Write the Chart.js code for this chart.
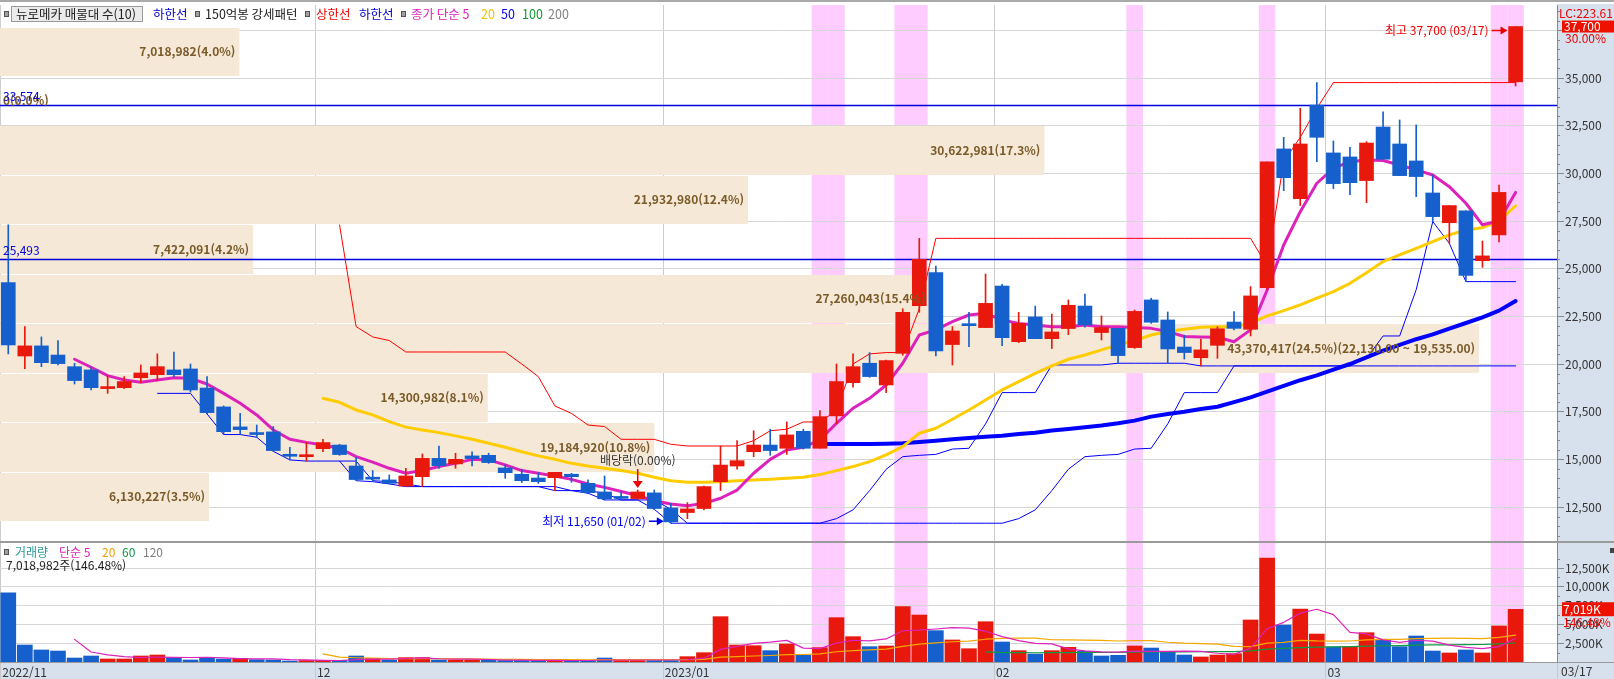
<!DOCTYPE html>
<html lang="ko">
<head>
<meta charset="utf-8">
<title>뉴로메카 일봉</title>
<script src="https://cdn.jsdelivr.net/npm/chart.js@4.4.1/dist/chart.umd.min.js"></script>
<style>
html,body{margin:0;padding:0;width:1614px;height:679px;overflow:hidden;background:#fff;}
.panel{position:absolute;background:#d7e1ee;}
#rp{left:1557px;top:4px;width:57px;height:675px;}
#bs{left:0;top:662px;width:1614px;height:17px;}
.cw{position:absolute;left:0;width:1614px;}
#c1w{top:0;height:543px;}
#c2w{top:543px;height:136px;}
</style>
</head>
<body>
<div id="rp" class="panel"></div>
<div id="bs" class="panel"></div>
<div id="c1w" class="cw"><canvas id="c1"></canvas></div>
<div id="c2w" class="cw"><canvas id="c2"></canvas></div>
<script>
// ---------------- DATA ----------------
const dates = [
'2022/11/04','2022/11/07','2022/11/08','2022/11/09','2022/11/10','2022/11/11','2022/11/14','2022/11/15','2022/11/16','2022/11/17','2022/11/18','2022/11/21','2022/11/22','2022/11/23','2022/11/24','2022/11/25','2022/11/28','2022/11/29','2022/11/30',
'2022/12/01','2022/12/02','2022/12/05','2022/12/06','2022/12/07','2022/12/08','2022/12/09','2022/12/12','2022/12/13','2022/12/14','2022/12/15','2022/12/16','2022/12/19','2022/12/20','2022/12/21','2022/12/22','2022/12/23','2022/12/26','2022/12/27','2022/12/28','2022/12/29',
'2023/01/02','2023/01/03','2023/01/04','2023/01/05','2023/01/06','2023/01/09','2023/01/10','2023/01/11','2023/01/12','2023/01/13','2023/01/16','2023/01/17','2023/01/18','2023/01/19','2023/01/20','2023/01/25','2023/01/26','2023/01/27','2023/01/30','2023/01/31',
'2023/02/01','2023/02/02','2023/02/03','2023/02/06','2023/02/07','2023/02/08','2023/02/09','2023/02/10','2023/02/13','2023/02/14','2023/02/15','2023/02/16','2023/02/17','2023/02/20','2023/02/21','2023/02/22','2023/02/23','2023/02/24','2023/02/27','2023/02/28',
'2023/03/02','2023/03/03','2023/03/06','2023/03/07','2023/03/08','2023/03/09','2023/03/10','2023/03/13','2023/03/14','2023/03/15','2023/03/16','2023/03/17'];

const openP = [24270,20420,20950,20470,19860,19690,18710,18760,19280,19440,19690,19740,18740,17750,16700,16400,16440,15260,15140,15560,
15750,14650,14040,13920,13600,14090,15050,14760,15180,15210,14550,14220,14020,14040,14220,13740,13290,13000,12940,13240,
12450,12210,12420,13830,14650,15400,15750,15580,16470,15580,17280,19020,20040,18900,20560,23060,24790,21020,22100,21910,
24090,21170,22470,21330,21860,23040,21650,21870,20860,23360,22310,20890,20330,20980,22200,21820,24000,31280,28670,33580,
31070,30860,29620,32430,31540,30650,28970,27410,28030,25420,26770,34800];
const highP = [27300,21960,21420,21230,20040,19830,19390,19340,19950,20530,20630,20000,19340,17800,17410,16800,16720,15630,15890,16050,
15790,15110,14410,14180,14530,15280,15700,15320,15390,15320,14710,14480,14300,14320,14270,13920,14130,13290,13390,13390,
12690,12730,13600,15700,15980,16500,16580,16960,16580,17560,20000,20530,20600,20210,22900,26590,25140,21960,22710,24720,
24180,22710,23040,22620,23360,23670,22520,21870,22830,23450,22730,21510,21310,21960,22750,24060,30610,31890,33410,34760,
31700,31360,31660,33230,32800,32540,29910,28310,28030,26450,29390,37700];
const lowP = [20530,19760,19860,19950,18950,18640,18460,18710,19020,19130,19340,18530,17380,16300,16330,16160,15420,14970,14910,15400,
15210,13880,13830,13710,13570,13570,14530,14530,14650,14790,14010,13780,13740,13360,13800,13220,12870,12870,12870,12380,
11650,11890,12350,13360,14480,15140,15210,15260,15540,15580,16860,18780,19300,18500,20460,22710,20420,19950,20910,21910,
20960,21120,21330,20810,21540,21930,21260,20040,20820,22130,20040,20260,19900,20300,21790,21470,23900,29090,28310,30610,
29200,28880,28460,30740,29880,28780,27470,26330,24320,25070,26400,34580];
const closeP = [21000,20950,20070,20020,19130,18760,18810,19080,19530,19860,19440,18640,17450,16450,16560,16300,15460,15160,15230,15880,
15250,13940,13960,13740,14130,15050,14670,15000,15040,14830,14300,13880,13830,14320,14090,13250,12930,12950,13290,12420,
11720,12400,13570,14700,14930,15750,15460,16280,15580,17240,19080,19860,19340,20180,22710,25490,20680,21730,22010,23180,
21380,22130,21330,21680,23080,22050,21910,20440,22760,22190,20790,20600,20740,21850,21870,23570,30610,29770,31540,31890,
29460,29510,31590,30740,29880,29830,27730,28310,24640,25670,29000,37700];

// volume, thousands of shares
const volumeK = [9200,2260,1600,1460,530,800,400,400,800,930,580,270,580,400,470,310,270,130,200,200,
200,800,470,270,580,580,270,270,270,270,200,200,200,200,200,200,530,200,200,200,
200,710,1240,6030,2260,2170,1510,2390,890,1910,5900,3370,2040,2130,7360,6250,4170,2930,1770,5360,
2660,1510,1060,1510,1950,1420,800,890,2130,1860,1420,930,670,930,1110,5590,13830,4920,7050,3720,
2000,2040,3900,3020,2040,3460,1460,1200,1600,1200,4791.767,7018.982];

const lead = n => Array(n).fill(null);
const ma5 = [...lead(4),
20250,19830,19390,19160,19040,19160,19280,19250,18950,18460,
17940,17330,16540,16050,15890,15750,15580,15140,14850,14530,
14270,14410,14620,14790,15000,14970,14710,14410,14270,14130,
13950,13710,13530,13310,13100,12830,12660,12570,12690,12960,
13390,14270,15000,15490,15630,16020,16890,17680,18200,18900,
20040,21520,21790,22220,22570,22660,22310,22130,22050,21960,
21960,22050,21960,21960,21920,21870,21700,21440,21420,21400,
21170,21790,23880,26240,27990,29480,30260,30610,30700,30670,
30440,30180,29910,29300,28430,27300,27500,29000];
const ma20 = [...lead(19),
18200,17990,17590,17330,16980,16690,16540,16400,16230,16050,
15840,15630,15400,15180,15000,14790,14650,14530,14410,14270,
14060,13880,13800,13800,13830,13880,13920,13950,14010,14060,
14200,14410,14620,14880,15230,15670,16370,16630,17100,17590,
18110,18640,19080,19510,19900,20250,20470,20740,21000,21230,
21520,21700,21820,21930,21960,21960,22140,22520,22800,23100,
23450,23800,24230,24790,25370,25720,26070,26420,26770,27030,
27150,27500,28300];
const ma50 = [...lead(49),
15810,15810,15810,15810,15820,15840,15910,15980,16050,16120,
16190,16240,16330,16400,16510,16590,16680,16770,16890,17030,
17240,17380,17500,17640,17760,18000,18250,18550,18850,19150,
19400,19700,20000,20350,20700,21000,21300,21550,21850,22150,
22450,22800,23300];
const upperLine = [...lead(20),
27300,21960,21420,21230,20630,20630,20630,20630,20630,20630,
20630,20000,19340,17800,17410,16800,16720,16050,16050,16050,
15790,15700,15700,15700,15700,15980,16500,16580,16960,16960,
17560,20000,20530,20600,20600,22900,26590,26590,26590,26590,
26590,26590,26590,26590,26590,26590,26590,26590,26590,26590,
26590,26590,26590,26590,26590,26590,25140,30610,31890,33410,
34760,34760,34760,34760,34760,34760,34760,34760,34760,34760,
34760,34760];
const lowerLine10 = [...lead(9),
18460,18460,18460,17380,16300,16300,16160,15420,14970,14910,
14910,14910,13880,13830,13710,13570,13570,13570,13570,13570,
13570,13570,13570,13570,13360,13360,13220,12870,12870,12870,
12380,11650,11650,11650,11650,11650,11650,11650,11650,11650,
11650,11890,12350,13360,14480,15140,15210,15260,15540,15580,
16860,18500,18500,18500,19950,19950,19950,19950,20040,20040,
20040,20040,20040,19900,19900,19900,19900,19900,19900,19900,
19900,19900,19900,20300,21470,21470,23900,27470,26330,24320,
24320,24320,24320];
const lowerLine20 = [...lead(20),
14910,14910,13880,13830,13710,13570,13570,13570,13570,13570,
13570,13570,13570,13570,13360,13360,13220,12870,12870,12870,
12380,11650,11650,11650,11650,11650,11650,11650,11650,11650,
11650,11650,11650,11650,11650,11650,11650,11650,11650,11650,
11650,11890,12350,13360,14480,15140,15210,15260,15540,15580,
16860,18500,18500,18500,19900,19900,19900,19900,19900,19900,
19900,19900,19900,19900,19900,19900,19900,19900,19900,19900,
19900,19900];
const volMa5 = [...lead(4),
3010,1330,958,718,586,666,622,596,632,552,
460,406,406,316,276,222,200,306,374,388,
464,540,434,394,394,332,256,242,228,214,
200,200,266,266,266,266,266,302,510,1676,
2088,2482,2642,2872,1844,1774,2520,2892,2822,3070,
4160,4230,4390,4568,4496,4096,3378,2846,2472,2420,
1738,1490,1348,1314,1438,1420,1420,1446,1402,1162,
1012,1846,4426,5276,6500,7022,6304,3946,3742,2936,
2600,2892,2776,2236,1952,1784,2050,3162];
const volMa20 = [...lead(19),
1090,640,567,510,451,453,442,436,429,403,
370,351,347,328,318,305,299,312,316,316,
316,316,311,350,638,722,801,863,969,1000,
1082,1367,1526,1618,1714,2072,2375,2557,2693,2772,
3030,3153,3193,3184,2958,2942,2905,2869,2794,2856,
2854,2630,2508,2439,2379,2067,2034,2517,2616,2880,
2798,2765,2792,2934,3009,3014,3116,3149,3164,3138,
3105,3273,3577];
const volMa60 = [...lead(59),
1360,1250,1240,1230,1235,1260,1270,1280,1290,1310,
1330,1345,1360,1365,1375,1390,1480,1710,1800,1920,
1985,2020,2045,2110,2160,2190,2240,2265,2285,2310,
2330,2410,2530];

// 매물대 (volume profile), top band first
const profileBounds = [37700,35105,32510,29915,27320,24725,22130,19535,16940,14345,11750];
const profileVolumes = [7018982,0,30622981,21932980,7422091,27260043,43370417,14300982,19184920,6130227];
const refLines = [33574,25493];
const pinkIdx = [49,50,54,55,68,76,90,91];
const monthLabels = {0:'2022/11',19:'12',40:'2023/01',60:'02',80:'03'};
const priceTicks = [12500,15000,17500,20000,22500,25000,27500,30000,32500,35000,37500];
const volumeTicksK = [2500,5000,7500,10000,12500];
const exDividendIdx = 38;
const exDividendRate = 0.00;
const lcValue = 223.61;

// ---------------- STYLE ----------------
const FONT = "'Noto Sans CJK KR','Noto Sans',sans-serif";
const RED = '#e8190c', BLUE = '#1560cc', PINK = '#ffccff', BEIGE = '#f5e8d6';
Chart.defaults.font.family = FONT;
Chart.defaults.font.size = 12;
Chart.defaults.color = '#333';
const labels = [...dates, '', ''];
const fmt = v => v.toLocaleString('en-US');
const fmt2 = v => v.toLocaleString('en-US',{minimumFractionDigits:2,maximumFractionDigits:2});
const maxProfile = Math.max(...profileVolumes);

function arrowRight(ctx,x1,x2,y,color){
  ctx.strokeStyle=color;ctx.fillStyle=color;ctx.lineWidth=1.5;
  ctx.beginPath();ctx.moveTo(x1,y);ctx.lineTo(x2-5,y);ctx.stroke();
  ctx.beginPath();ctx.moveTo(x2,y);ctx.lineTo(x2-7,y-4);ctx.lineTo(x2-7,y+4);ctx.closePath();ctx.fill();
}
function arrowDown(ctx,x,y1,y2,color){
  ctx.strokeStyle=color;ctx.fillStyle=color;ctx.lineWidth=1.5;
  ctx.beginPath();ctx.moveTo(x,y1);ctx.lineTo(x,y2-5);ctx.stroke();
  ctx.beginPath();ctx.moveTo(x,y2);ctx.lineTo(x-5,y2-7);ctx.lineTo(x+5,y2-7);ctx.closePath();ctx.fill();
}
function square(ctx,x,y){
  ctx.fillStyle='#a0a0a0';ctx.fillRect(x,y-3,5,6);
  ctx.strokeStyle='#555';ctx.lineWidth=1;ctx.strokeRect(x+0.5,y-2.5,4,5);
}
// items: {x, t, c} text at fixed x; {x, sq:1} square
function legendRow(ctx,y,items,size){
  ctx.textBaseline='middle';ctx.textAlign='left';ctx.font=size+'px '+FONT;
  for(const it of items){
    if(it.sq){square(ctx,it.x,y);continue;}
    if(it.box){
      ctx.fillStyle='#ebebeb';ctx.fillRect(it.box[0],y-8,it.box[1]-it.box[0],16);
      ctx.strokeStyle='#9a9a9a';ctx.lineWidth=1;ctx.strokeRect(it.box[0]+0.5,y-7.5,it.box[1]-it.box[0]-1,15);
    }
    ctx.fillStyle=it.c;ctx.fillText(it.t,it.x,y);
  }
}
function catWidth(x){return x.getPixelForValue(1)-x.getPixelForValue(0);}

const mainPlugin = {
  id:'mainDeco',
  beforeDraw(chart){
    const {ctx,chartArea:a,scales:{x}}=chart;const w=catWidth(x);
    ctx.save();
    ctx.fillStyle=PINK;
    for(const i of pinkIdx){ctx.fillRect(x.getPixelForValue(i)-w/2,a.top,w,a.bottom-a.top);}
    ctx.strokeStyle='#cdcdcd';ctx.lineWidth=1;
    for(const k of Object.keys(monthLabels)){
      const bx=Math.round(x.getPixelForValue(+k)-w/2)+0.5;
      ctx.beginPath();ctx.moveTo(bx,a.top);ctx.lineTo(bx,a.bottom);ctx.stroke();
    }
    ctx.restore();
  },
  beforeDatasetsDraw(chart){
    const {ctx,chartArea:a,scales:{y,xv}}=chart;
    ctx.save();
    ctx.fillStyle=BEIGE;
    profileVolumes.forEach((v,k)=>{
      const yt=Math.round(y.getPixelForValue(profileBounds[k]))+1;
      const yb=Math.round(y.getPixelForValue(profileBounds[k+1]));
      const xr=xv.getPixelForValue(v);
      if(v>0) ctx.fillRect(a.left,yt,xr-a.left,yb-yt);
    });
    ctx.strokeStyle='#0000dd';ctx.lineWidth=1.3;
    for(const v of refLines){
      const yy=Math.round(y.getPixelForValue(v))+0.5;
      ctx.beginPath();ctx.moveTo(a.left,yy);ctx.lineTo(a.right,yy);ctx.stroke();
    }
    ctx.restore();
  },
  afterDatasetsDraw(chart){
    const {ctx,chartArea:a,scales:{x,y,xv}}=chart;
    ctx.save();
    const total=profileVolumes.reduce((s,v)=>s+v,0);
    ctx.font='bold 12px '+FONT;ctx.fillStyle='#7a5a28';ctx.textBaseline='middle';
    profileVolumes.forEach((v,k)=>{
      const ym=(y.getPixelForValue(profileBounds[k])+y.getPixelForValue(profileBounds[k+1]))/2;
      let t=fmt(v)+'('+(v/total*100).toFixed(1)+'%)';
      if(v===maxProfile) t+='('+fmt2(profileBounds[k])+' ~ '+fmt2(profileBounds[k+1])+')';
      if(v>0){ctx.textAlign='right';ctx.fillText(t,xv.getPixelForValue(v)-4,ym);}
      else{ctx.textAlign='left';ctx.fillText(t,a.left+3,ym);}
    });
    ctx.font='12px '+FONT;ctx.fillStyle='#0000dd';ctx.textAlign='left';
    for(const v of refLines){ctx.fillText(fmt(v),a.left+3,y.getPixelForValue(v)-9);}
    // high
    const hi=highP.indexOf(Math.max(...highP));
    const hx=x.getPixelForValue(hi),hy=y.getPixelForValue(highP[hi])+4;
    arrowRight(ctx,hx-24,hx-8,hy,'#ee0000');
    ctx.font='12px '+FONT;ctx.fillStyle='#ee0000';ctx.textAlign='right';
    ctx.fillText('최고 '+fmt(highP[hi])+' ('+dates[hi].slice(5)+')',hx-27,hy);
    // low
    const lo=lowP.indexOf(Math.min(...lowP));
    const lx=x.getPixelForValue(lo),ly=y.getPixelForValue(lowP[lo])-2;
    arrowRight(ctx,lx-22,lx-7,ly,'#0000ee');
    ctx.fillStyle='#0000ee';ctx.textAlign='right';
    ctx.fillText('최저 '+fmt(lowP[lo])+' ('+dates[lo].slice(5)+')',lx-25,ly);
    // ex-dividend
    const dx=x.getPixelForValue(exDividendIdx),tip=y.getPixelForValue(highP[exDividendIdx])-2;
    arrowDown(ctx,dx,tip-19,tip,'#ee0000');
    ctx.fillStyle='#333';ctx.textAlign='center';
    ctx.fillText('배당락('+exDividendRate.toFixed(2)+'%)',dx,tip-28);
    ctx.restore();
  },
  afterDraw(chart){
    const {ctx,chartArea:a,scales:{y}}=chart;
    ctx.save();
    ctx.fillStyle='#a9a9a9';ctx.fillRect(0,0,chart.width,2);
    ctx.fillStyle='#9a9a9a';ctx.fillRect(0,a.bottom-2,chart.width,2);
    ctx.strokeStyle='#888';ctx.lineWidth=1;
    for(let v=11000;v<=38500;v+=500){
      if(v%2500===0)continue;
      const yy=Math.round(y.getPixelForValue(v))+0.5;
      ctx.beginPath();ctx.moveTo(a.right,yy);ctx.lineTo(a.right+3,yy);ctx.stroke();
    }
    ctx.font='12px '+FONT;ctx.textBaseline='middle';ctx.textAlign='left';
    ctx.fillStyle='#ee0000';ctx.fillText('LC:'+lcValue.toFixed(2),a.right+2,13);
    const n=closeP.length,last=closeP[n-1],prev=closeP[n-2];
    const by=y.getPixelForValue(last);
    ctx.fillStyle='#ee1100';ctx.fillRect(a.right+5,by-6,chart.width-a.right-5,12);
    ctx.fillStyle='#fff';ctx.fillText(fmt(last),a.right+7,by);
    ctx.fillStyle='#ee0000';ctx.fillText(((last/prev-1)*100).toFixed(2)+'%',a.right+8,by+12);
    legendRow(ctx,14,[
      {x:4,sq:1},{x:16,t:'뉴로메카 매물대 수(10)',c:'#222',box:[11,143]},{x:153,t:'하한선',c:'#0000cc'},
      {x:195,sq:1},{x:205,t:'150억봉 강세패턴',c:'#222'},
      {x:305,sq:1},{x:316,t:'상한선',c:'#ee0000'},{x:359,t:'하한선',c:'#0000cc'},
      {x:401,sq:1},{x:411,t:'종가 단순 5',c:'#dd22bb'},{x:481,t:'20',c:'#f5c400'},
      {x:501,t:'50',c:'#0000ee'},{x:522,t:'100',c:'#119933'},{x:548,t:'200',c:'#808080'}
    ],12.5);
    ctx.restore();
  }
};

const volPlugin = {
  id:'volDeco',
  beforeDraw(chart){
    const {ctx,chartArea:a,scales:{x}}=chart;const w=catWidth(x);
    ctx.save();
    ctx.fillStyle=PINK;
    for(const i of pinkIdx){ctx.fillRect(x.getPixelForValue(i)-w/2,a.top,w,a.bottom-a.top);}
    ctx.strokeStyle='#c8c8c8';ctx.lineWidth=1;
    for(const k of Object.keys(monthLabels)){
      const bx=Math.round(x.getPixelForValue(+k)-w/2)+0.5;
      ctx.beginPath();ctx.moveTo(bx,a.top);ctx.lineTo(bx,chart.height);ctx.stroke();
    }
    ctx.beginPath();ctx.moveTo(a.right+0.5,a.bottom);ctx.lineTo(a.right+0.5,chart.height);ctx.stroke();
    ctx.restore();
  },
  afterDraw(chart){
    const {ctx,chartArea:a,scales:{y}}=chart;
    ctx.save();
    ctx.fillStyle='#9a9a9a';ctx.fillRect(0,a.bottom,chart.width,1);
    ctx.strokeStyle='#888';ctx.lineWidth=1;
    for(let v=1250;v<=15000;v+=1250){
      if(v%2500===0)continue;
      const yy=Math.round(y.getPixelForValue(v))+0.5;
      ctx.beginPath();ctx.moveTo(a.right,yy);ctx.lineTo(a.right+3,yy);ctx.stroke();
    }
    legendRow(ctx,9,[
      {x:4,sq:1},{x:15,t:'거래량',c:'#2a9a9a'},{x:59,t:'단순 5',c:'#dd22bb'},
      {x:102,t:'20',c:'#f0a000'},{x:122,t:'60',c:'#119944'},{x:143,t:'120',c:'#808080'}
    ],12);
    const n=volumeK.length,lastV=volumeK[n-1],prevV=volumeK[n-2];
    ctx.font='12px '+FONT;ctx.textAlign='left';ctx.textBaseline='middle';
    ctx.fillStyle='#222';
    ctx.fillText(fmt(Math.round(lastV*1000))+'주('+(lastV/prevV*100).toFixed(2)+'%)',6,22);
    const vy=y.getPixelForValue(lastV);
    ctx.fillStyle='#ee1100';ctx.fillRect(a.right+5,vy-7,chart.width-a.right-5,14);
    ctx.fillStyle='#fff';ctx.fillText(fmt(Math.round(lastV))+'K',a.right+6,vy);
    ctx.fillStyle='#ee0000';ctx.fillText((lastV/prevV*100).toFixed(2)+'%',a.right+6,vy+13);
    ctx.fillStyle='#444';ctx.fillRect(chart.width-4,5,4,5);
    ctx.fillStyle='#333';ctx.textBaseline='top';
    ctx.fillText(dates[n-1].slice(5),a.right+4,a.bottom+3);
    ctx.restore();
  }
};

const lineDs = (data,color,width,order)=>({type:'line',data,borderColor:color,borderWidth:width,pointRadius:0,pointHoverRadius:0,
  tension:0,fill:false,spanGaps:false,borderJoinStyle:'round',borderCapStyle:'round',order,xAxisID:'x',yAxisID:'y'});
const candleColor = ctx => (closeP[ctx.dataIndex] >= openP[ctx.dataIndex]) ? RED : BLUE;

new Chart(document.getElementById('c1'),{
  type:'bar',
  data:{labels,datasets:[
    {data:openP.map((o,i)=>[o,closeP[i]]),backgroundColor:candleColor,barThickness:14,minBarLength:2,grouped:false,order:0,xAxisID:'x',yAxisID:'y'},
    {data:lowP.map((l,i)=>[l,highP[i]]),backgroundColor:candleColor,barThickness:1,grouped:false,order:1,xAxisID:'x',yAxisID:'y'},
    lineDs(ma5,'#dd22bb',3,2),
    lineDs(ma20,'#ffcc00',3,3),
    lineDs(ma50,'#0000ff',4,4),
    lineDs(upperLine,'#ff0000',1,5),
    lineDs(lowerLine10,'#0000ff',1,6),
    lineDs(lowerLine20,'#0000ff',1,7)
  ]},
  options:{
    responsive:true,maintainAspectRatio:false,animation:false,devicePixelRatio:1,events:[],
    layout:{padding:{top:5,left:0,right:0,bottom:0}},
    plugins:{legend:{display:false},tooltip:{enabled:false}},
    scales:{
      x:{type:'category',offset:true,display:false},
      xv:{type:'linear',axis:'x',display:false,offset:false,grace:0,min:0,max:maxProfile/0.95},
      y:{type:'linear',position:'right',min:10612,max:38829,
        afterBuildTicks:s=>{s.ticks=priceTicks.map(v=>({value:v}));},
        afterFit:s=>{s.width=57;s.paddingTop=0;s.paddingBottom=0;},
        grid:{color:'#d6d6d6',tickColor:'#888',tickLength:7},
        border:{display:true,color:'#888'},
        ticks:{padding:1,color:'#333',font:{size:12},
          callback:v=>v>36000?'':fmt(v)}}
    }
  },
  plugins:[mainPlugin]
});

const volColor = ctx => { const i=ctx.dataIndex; return (i>0 && closeP[i]>=closeP[i-1]) ? RED : BLUE; };
new Chart(document.getElementById('c2'),{
  type:'bar',
  data:{labels,datasets:[
    {data:volumeK,backgroundColor:volColor,barThickness:15,grouped:false,order:5,xAxisID:'x',yAxisID:'y'},
    lineDs(volMa5,'#dd22bb',1.2,0),
    lineDs(volMa20,'#f5a800',1.2,1),
    lineDs(volMa60,'#119944',1.2,2)
  ]},
  options:{
    responsive:true,maintainAspectRatio:false,animation:false,devicePixelRatio:1,events:[],
    layout:{padding:0},
    plugins:{legend:{display:false},tooltip:{enabled:false}},
    scales:{
      x:{type:'category',offset:true,
        grid:{display:false,drawTicks:false},border:{display:false},
        ticks:{autoSkip:false,maxRotation:0,minRotation:0,align:'start',labelOffset:-6,padding:3,color:'#333',font:{size:12},
          callback:(v,i)=>monthLabels[i]??''},
        afterFit:s=>{s.height=17;s.paddingLeft=0;s.paddingRight=0;}},
      y:{type:'linear',position:'right',min:0,max:15830,
        afterBuildTicks:s=>{s.ticks=volumeTicksK.map(v=>({value:v}));},
        afterFit:s=>{s.width=57;s.paddingTop=0;s.paddingBottom=0;},
        grid:{color:'#d6d6d6',tickColor:'#888',tickLength:7},
        border:{display:true,color:'#888'},
        ticks:{padding:1,color:'#333',font:{size:12},
          callback:v=>fmt(v)+'K'}}
    }
  },
  plugins:[volPlugin]
});
</script>
</body>
</html>
